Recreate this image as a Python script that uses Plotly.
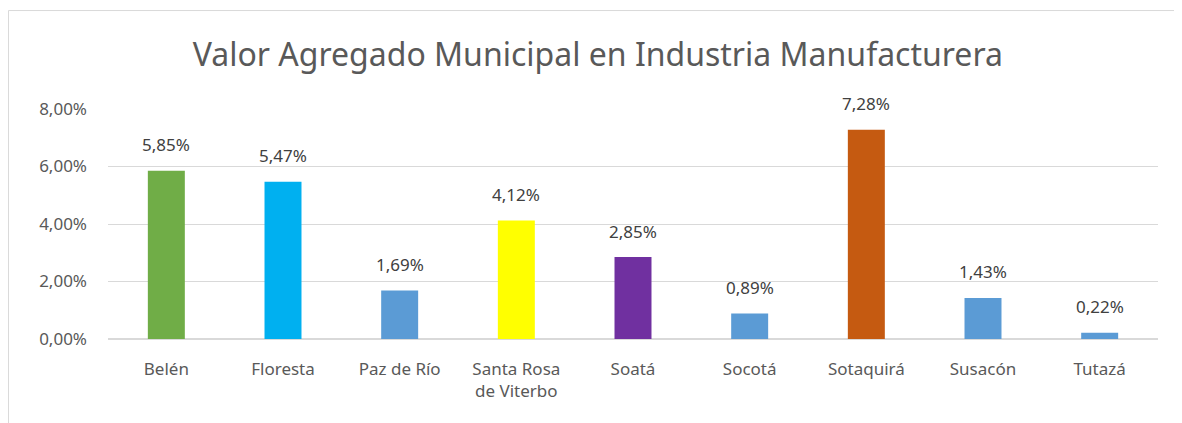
import plotly.graph_objects as go

municipios = ['Belén', 'Floresta', 'Paz de Río', 'Santa Rosa<br>de Viterbo', 'Soatá',
              'Socotá', 'Sotaquirá', 'Susacón', 'Tutazá']
valor_agregado = [5.85, 5.47, 1.69, 4.12, 2.85, 0.89, 7.28, 1.43, 0.22]
colores = ['#70AD47', '#00B0F0', '#5B9BD5', '#FFFF00', '#7030A0',
           '#5B9BD5', '#C55A11', '#5B9BD5', '#5B9BD5']
ticks_y = [0, 2, 4, 6, 8]


def pct(v):
    return f'{v:.2f}'.replace('.', ',') + '%'


fig = go.Figure()
fig.add_trace(go.Bar(x=municipios, y=valor_agregado,
                     marker=dict(color=colores, line=dict(width=0)),
                     width=0.317, hoverinfo='x+y'))

# etiquetas de datos, separadas del borde de la barra como en Excel
for m, v in zip(municipios, valor_agregado):
    fig.add_annotation(x=m, y=v, text=pct(v), showarrow=False,
                       yanchor='middle', yshift=26,
                       font=dict(family='Noto Sans', size=17, color='#404040'))

# the page body adds 8px offset, margins compensate for it
fig.update_layout(
    width=1182, height=423,
    margin=dict(l=100, r=32, t=101, b=92),
    paper_bgcolor='white', plot_bgcolor='white',
    font=dict(family='Noto Sans', color='#595959'),
    title=dict(text='Valor Agregado Municipal en Industria Manufacturera',
               x=0.499, xref='container', xanchor='center', y=0.889, yanchor='middle',
               font=dict(size=32, color='#595959')),
    showlegend=False,
)
fig.update_yaxes(range=[0, 8], tickvals=ticks_y, ticktext=[pct(t) for t in ticks_y],
                 showgrid=True, gridcolor='#D9D9D9', gridwidth=1,
                 zeroline=True, zerolinecolor='#D9D9D9', zerolinewidth=1.5,
                 tickfont=dict(size=17, color='#595959'), ticklabelstandoff=20,
                 showline=False)
fig.update_xaxes(showline=False, showgrid=False, ticks='',
                 tickfont=dict(size=17, color='#595959'), ticklabelstandoff=18,
                 tickangle=0)

# borde del area del grafico (lados izquierdo y superior)
fig.add_shape(type='line', xref='paper', yref='paper',
              x0=-0.0948, x1=-0.0948, y0=-0.6, y1=1.428,
              line=dict(color='#D9D9D9', width=1))
fig.add_shape(type='line', xref='paper', yref='paper',
              x0=-0.0948, x1=1.2, y0=1.428, y1=1.428,
              line=dict(color='#D9D9D9', width=1))

fig.write_html('out.html')
